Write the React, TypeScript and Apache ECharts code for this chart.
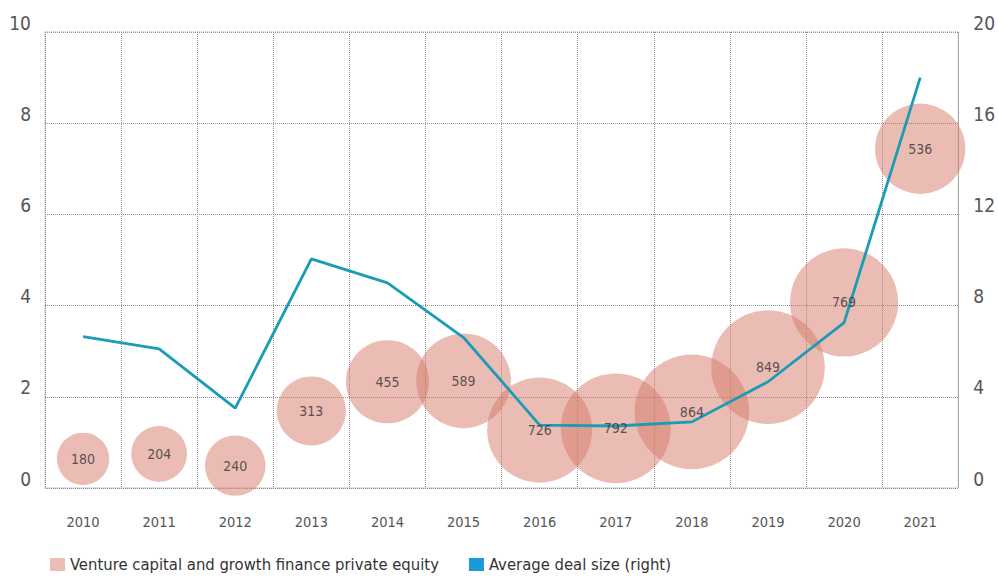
import React, { useEffect, useRef } from "react";
import * as echarts from "echarts";

const years = ["2010", "2011", "2012", "2013", "2014", "2015", "2016", "2017", "2018", "2019", "2020", "2021"];
const bubbleY = [0.64, 0.75, 0.49, 1.69, 2.33, 2.35, 1.27, 1.31, 1.67, 2.65, 4.07, 7.44];
const bubbleCount = [180, 204, 240, 313, 455, 589, 726, 792, 864, 849, 769, 536];
const avgDeal = [6.64, 6.1, 3.5, 10.05, 9.0, 6.6, 2.76, 2.72, 2.9, 4.66, 7.25, 18.0];
const leftTicks = { min: 0, max: 10, interval: 2 };
const rightTicks = { min: 0, max: 20, interval: 4 };
const seriesNames = ["Venture capital and growth finance private equity", "Average deal size (right)"];

const FONT = "'Liberation Sans Narrow', 'DejaVu Sans Condensed', 'Roboto', sans-serif";
const BUBBLE = "rgba(214,122,106,0.5)";
const LINE = "#1a9cb6";
const GRIDC = "#8f8f8f";

export default function App() {
  const ref = useRef<HTMLDivElement>(null);
  useEffect(() => {
    if (!ref.current) return;
    const chart = echarts.init(ref.current, undefined, { renderer: "svg" });
    const bubbleData = years.map((y, i) => [y, bubbleY[i], bubbleCount[i]]);
    chart.setOption({
      animation: false,
      backgroundColor: "#ffffff",
      textStyle: { fontFamily: FONT },
      grid: {
        left: 45, right: 36, top: 32, bottom: 92,
        show: true, borderColor: GRIDC, borderWidth: 1, borderType: "dotted",
      },
      legend: {
        left: 45, bottom: 2, itemWidth: 15, itemHeight: 13, itemGap: 30,
        textStyle: { fontFamily: FONT, fontSize: 16.5, color: "#333" },
        data: [
          { name: seriesNames[0], icon: "rect", itemStyle: { color: "#ebbdb4", opacity: 1 } },
          { name: seriesNames[1], icon: "rect", itemStyle: { color: "#1a9bd7" } },
        ],
      },
      xAxis: {
        type: "category", data: years, boundaryGap: true,
        axisLine: { show: false }, axisTick: { show: false },
        splitLine: { show: true, lineStyle: { color: GRIDC, type: "dotted", width: 1 } },
        axisLabel: { color: "#555", fontSize: 14.5, margin: 26, fontFamily: FONT },
      },
      yAxis: [
        {
          type: "value", ...leftTicks,
          axisLine: { show: false }, axisTick: { show: false },
          splitLine: { show: true, lineStyle: { color: GRIDC, type: "dotted", width: 1 } },
          axisLabel: { color: "#555", fontSize: 19, margin: 14, verticalAlign: "bottom", fontFamily: FONT },
        },
        {
          type: "value", ...rightTicks,
          axisLine: { show: false }, axisTick: { show: false },
          splitLine: { show: false },
          axisLabel: { color: "#555", fontSize: 19, margin: 15, verticalAlign: "bottom", fontFamily: FONT },
        },
      ],
      series: [
        {
          name: seriesNames[0], type: "scatter", yAxisIndex: 0, z: 2,
          data: bubbleData,
          symbolSize: (v: number[]) => 3.9 * Math.sqrt(v[2]),
          itemStyle: { color: BUBBLE, opacity: 1 },
          emphasis: { disabled: true },
        },
        {
          name: seriesNames[1], type: "line", yAxisIndex: 1, z: 3,
          data: avgDeal, symbol: "none",
          lineStyle: { color: LINE, width: 2.8 },
          itemStyle: { color: LINE },
        },
        {
          name: "labels", type: "scatter", yAxisIndex: 0, z: 4,
          data: bubbleData, symbolSize: 1,
          itemStyle: { color: "rgba(0,0,0,0)" },
          label: {
            show: true, position: "inside", color: "#333", fontSize: 14, fontFamily: FONT,
            formatter: (p: any) => String(p.value[2]),
          },
          emphasis: { disabled: true },
        },
      ],
    });
    return () => chart.dispose();
  }, []);
  return (
    <div
      ref={ref}
      style={{ position: "fixed", left: 0, top: 0, width: 998, height: 580, background: "#fff" }}
    />
  );
}
